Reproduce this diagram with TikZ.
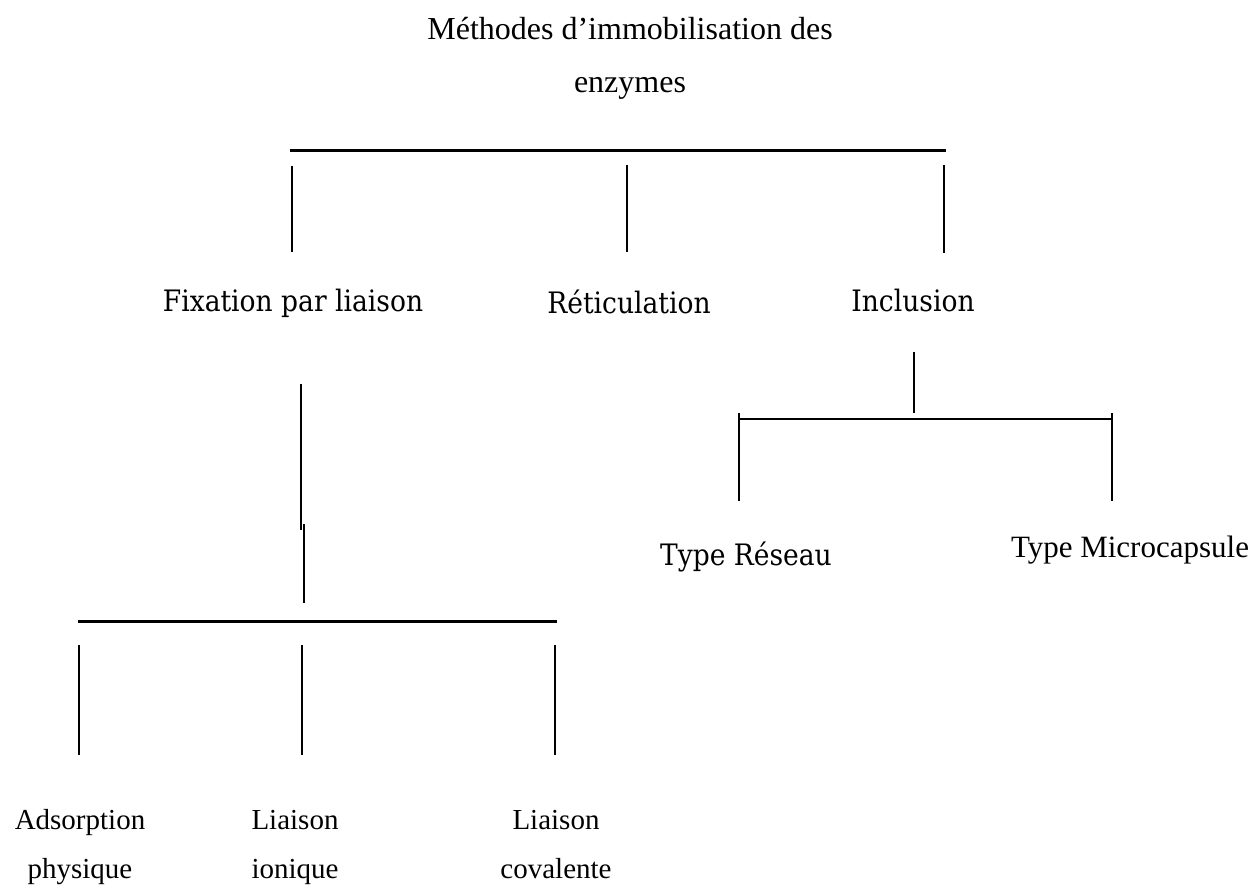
\documentclass[tikz,border=0pt]{standalone}
\usepackage{fontspec}
\setmainfont{Liberation Serif}
\newfontfamily\camfont{DejaVu Serif Condensed}
\begin{document}
\begin{tikzpicture}[x=1pt,y=-1pt,
  tms/.style={font=\fontsize{29}{34}\selectfont, anchor=base, inner sep=0pt},
  ttl/.style={font=\fontsize{32}{38}\selectfont, anchor=base, inner sep=0pt},
  cam/.style={font=\camfont\fontsize{29.5}{35}\selectfont, anchor=base, inner sep=0pt},
  bar/.style={line width=3pt},
  stem/.style={line width=2pt},
  thinstem/.style={line width=1.3pt}]
\useasboundingbox (0,0) rectangle (1255,885);
\fill[white] (0,0) rectangle (1255,885);

% title
\node[ttl] (t1) at (630,40) {Méthodes d’immobilisation des};
\node[ttl] (t2) at (630,93) {enzymes};

% top bracket
\coordinate (hA) at (290,151); \coordinate (hB) at (946,151);
\draw[bar] (hA) -- (hB);
\coordinate (v1a) at (292,166); \coordinate (v1b) at (292,252);
\coordinate (v2a) at (627,165); \coordinate (v2b) at (627,252);
\coordinate (v3a) at (944,165); \coordinate (v3b) at (944,253);
\draw[stem] (v1a) -- (v1b);
\draw[stem] (v2a) -- (v2b);
\draw[stem] (v3a) -- (v3b);

% level 1 labels
\node[cam] (fix) at (293,311) {Fixation par liaison};
\node[cam] (ret) at (629,313) {Réticulation};
\node[cam] (inc) at (913,311) {Inclusion};

% inclusion subtree
\coordinate (iA) at (914,352); \coordinate (iB) at (914,413);
\draw[stem] (iA) -- (iB);
\coordinate (ihA) at (738,419); \coordinate (ihB) at (1113,419);
\draw[line width=2.5pt] (ihA) -- (ihB);
\coordinate (il1) at (739,413); \coordinate (il2) at (739,501);
\coordinate (ir1) at (1112,413); \coordinate (ir2) at (1112,501);
\draw[stem] (il1) -- (il2);
\draw[stem] (ir1) -- (ir2);
\node[cam] (res) at (746,565) {Type Réseau};
\node[tms, font=\fontsize{31}{36}\selectfont] (mic) at (1130,557) {Type Microcapsule};

% fixation subtree
\coordinate (fA) at (301,384); \coordinate (fB) at (301,530);
\draw[thinstem] (fA) -- (fB);
\coordinate (fC) at (304,524); \coordinate (fD) at (304,603);
\draw[stem] (fC) -- (fD);
\coordinate (lhA) at (78,621); \coordinate (lhB) at (557,621);
\draw[bar] (lhA) -- (lhB);
\coordinate (l1a) at (79,645); \coordinate (l1b) at (79,755);
\coordinate (l2a) at (302,645); \coordinate (l2b) at (302,755);
\coordinate (l3a) at (555,645); \coordinate (l3b) at (555,755);
\draw[stem] (l1a) -- (l1b);
\draw[stem] (l2a) -- (l2b);
\draw[stem] (l3a) -- (l3b);

% bottom labels
\node[tms] (ads1) at (80,829) {Adsorption};
\node[tms] (ads2) at (80,878) {physique};
\node[tms] (ion1) at (295,829) {Liaison};
\node[tms] (ion2) at (295,878) {ionique};
\node[tms] (cov1) at (556,829) {Liaison};
\node[tms] (cov2) at (556,878) {covalente};
\end{tikzpicture}
\end{document}
